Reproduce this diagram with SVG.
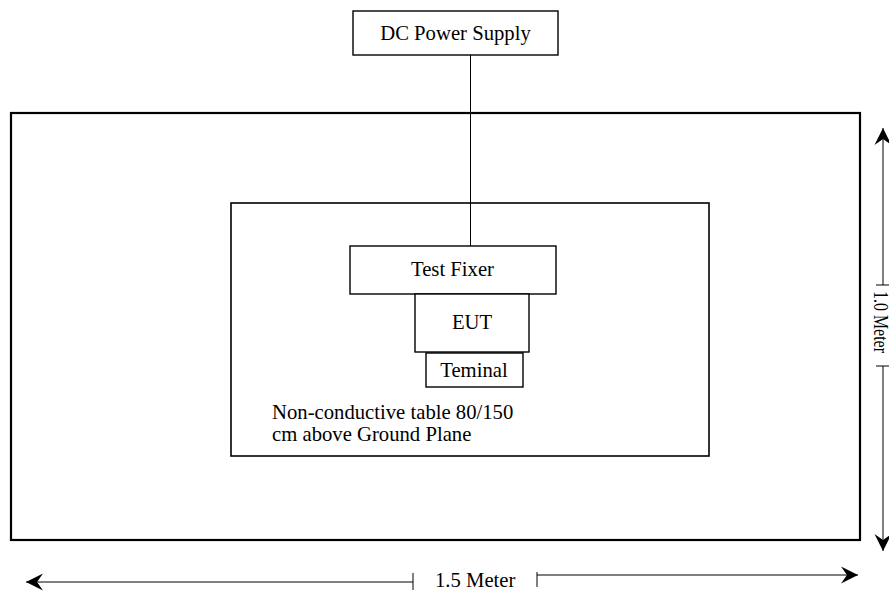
<svg xmlns="http://www.w3.org/2000/svg" width="889" height="591" viewBox="0 0 889 591">
<style>
text{font-family:"Liberation Serif","Times New Roman",serif;font-size:20.7px;fill:#000}
.box{fill:#fff;stroke:#000;stroke-width:1.4}
.ln{stroke:#000;stroke-width:1;fill:none}
</style>
<defs>
<marker id="ah" markerUnits="userSpaceOnUse" markerWidth="20" markerHeight="20" viewBox="-18 -9 20 18" refX="0" refY="0" orient="auto">
<path d="M0,0 L-17,-8.5 L-11,0 L-17,8.5 Z" fill="#000"/>
</marker>
</defs>
<g id="ground-plane">
<rect x="11" y="113" width="849" height="427" fill="#fff" stroke="#000" stroke-width="2.2"/>
</g>
<g id="table">
<rect x="231" y="203" width="478" height="253" fill="#fff" stroke="#000" stroke-width="1.6"/>
<text x="272" y="419" font-family="Liberation Serif, serif">Non-conductive table 80/150</text>
<text x="272" y="441" font-family="Liberation Serif, serif">cm above Ground Plane</text>
</g>
<g id="connectors">
<line class="ln" x1="470.5" y1="55" x2="470.5" y2="246"/>
</g>
<g id="dc-power-supply">
<rect class="box" x="353" y="11" width="205" height="44"/>
<text x="455.5" y="40" text-anchor="middle" font-family="Liberation Serif, serif">DC Power Supply</text>
</g>
<g id="test-fixer">
<rect class="box" x="350" y="246" width="206" height="48"/>
<text x="452.5" y="276" text-anchor="middle" font-family="Liberation Serif, serif">Test Fixer</text>
</g>
<g id="eut">
<rect class="box" x="415" y="294" width="114" height="58"/>
<text x="472" y="329" text-anchor="middle" font-family="Liberation Serif, serif">EUT</text>
</g>
<g id="terminal">
<rect class="box" x="426" y="353" width="97" height="34"/>
<text x="474" y="377" text-anchor="middle" font-family="Liberation Serif, serif">Teminal</text>
</g>
<g id="dimension-width">
<line class="ln" x1="413" y1="582" x2="26" y2="582" marker-end="url(#ah)"/>
<line class="ln" x1="413" y1="573" x2="413" y2="590"/>
<line class="ln" x1="537" y1="575" x2="858" y2="575" marker-end="url(#ah)"/>
<line class="ln" x1="537" y1="572" x2="537" y2="587"/>
<text x="435" y="587" font-family="Liberation Serif, serif">1.5 Meter</text>
</g>
<g id="dimension-height">
<line class="ln" x1="883" y1="285" x2="883" y2="128" marker-end="url(#ah)"/>
<line class="ln" x1="876" y1="285" x2="889" y2="285"/>
<line class="ln" x1="883" y1="366" x2="883" y2="551" marker-end="url(#ah)"/>
<line class="ln" x1="876" y1="366" x2="889" y2="366"/>
<text transform="translate(874,291) rotate(90)" font-family="Liberation Serif, serif" textLength="62" lengthAdjust="spacingAndGlyphs">1.0 Meter</text>
</g>
</svg>
